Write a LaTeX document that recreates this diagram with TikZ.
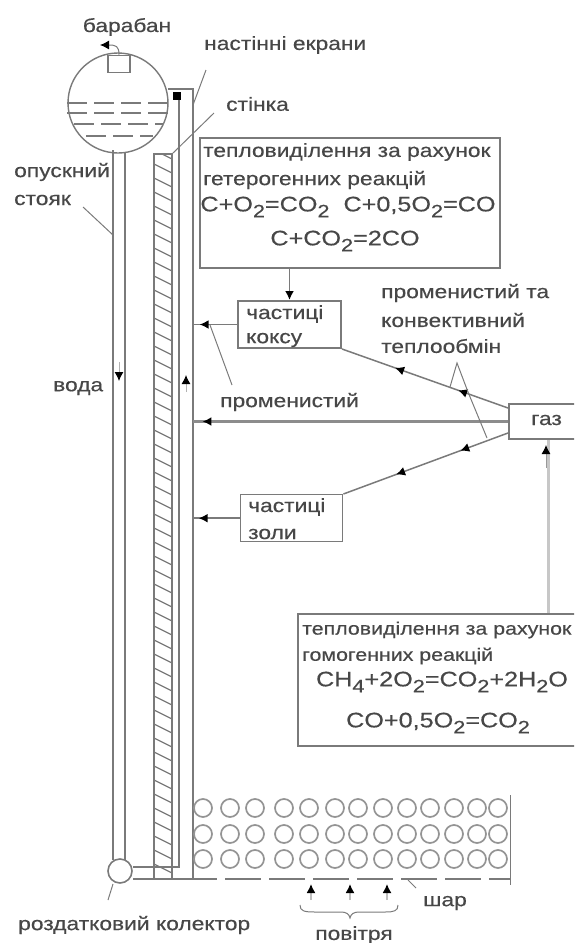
\documentclass[tikz,border=0pt]{standalone}
\usepackage{fontspec}
\setmainfont[FakeStretch=1.2,FakeBold=0.4]{Liberation Sans}
\usetikzlibrary{arrows.meta,decorations.markings}
\colorlet{ln}{black!52}
\colorlet{tx}{black!72}
\newcommand{\dn}[1]{\raisebox{-6pt}{\fontsize{18}{18}\selectfont #1}}
\newcommand{\fs}{\fontsize{19}{28}\selectfont}
\newcommand{\fn}{\fontsize{17.8}{28}\selectfont}
\newcommand{\fm}{\fontsize{21}{28}\selectfont}
\tikzset{
  tp/.tip={Latex[length=9pt,width=9pt,black]},
  lne/.style={draw=ln,line width=1.8pt},
  thin ln/.style={draw=ln,line width=1pt},
  lbl/.style={text=tx,inner sep=0pt,font=\fs,align=left,anchor=west},
  frm/.style={text=tx,inner sep=0pt,font=\fm,anchor=center},
  boxn/.style={draw=ln,line width=2pt,fill=white,inner sep=0pt,anchor=north west},
  tipat/.style={postaction={decorate},decoration={markings,mark=at position #1 with {\arrow{tp}}}},
  tiptwo/.style 2 args={postaction={decorate},decoration={markings,mark=at position #1 with {\arrow{tp}},mark=at position #2 with {\arrow{tp}}}},
  dashw/.style={draw=ln,line width=1.8pt,dash pattern=on 20pt off 7pt},
  ball/.style={circle,draw=black!42,line width=1.7pt,minimum size=18pt,inner sep=0pt},
}
\begin{document}
\begin{tikzpicture}[x=1pt,y=-1pt]
\useasboundingbox (0,0) rectangle (574,943);
\clip (0,0) rectangle (574,943);
% coordinates of the wall tube
\coordinate (wr) at (193,421);
% drum
\node[circle,draw=ln,line width=1.4pt,minimum size=100pt,inner sep=0pt] (drum) at (118,103) {};
\node[draw=ln,line width=1.6pt,minimum width=22pt,minimum height=17pt,inner sep=0pt] (sep) at (119,64) {};
\coordinate (steam) at (100,45);
\draw[thin ln,-tp] (sep.north) .. controls (119,46) and (116,45) .. (steam);
\draw[dashw] (67,103) -- (169,103);
\draw[dashw] (67,113) -- (169,113);
\draw[dashw] (74,124) -- (163,124);
\draw[dashw] (86,136) -- (153,136);
% downcomer
\node[circle,draw=ln,line width=1.6pt,minimum size=24pt,inner sep=0pt] (coll) at (120,871) {};
\draw[lne] (113,150) -- (113,860);
\draw[lne] (125,152) -- (125,860);
% wall hatch
\begin{scope}
\clip (154,155) rectangle (172,879);
\foreach \y in {150,164,...,880}{\draw[draw=ln,line width=1.2pt] (154,\y) -- (172,\y+9);}
\end{scope}
\draw[lne] (172,879) -- (172,154) -- (154,154) -- (154,879);
% screen tube
\draw[lne] (168,89) -- (193,89) -- (193,879);
\draw[lne] (179,97) -- (179,867) -- (133,867);
\fill[black] (173,92) rectangle (181,100);
\draw[lne] (133,879) -- (217,879);
\draw[lne,dash pattern=on 36pt off 8pt] (225,879) -- (510,879);
\draw[thin ln] (510,795) -- (510,885);
% balls
\foreach \x [count=\i] in {203,230,255,284,309,335,358,383,407,430,454,477,498}{
  \node[ball] (a\i) at (\x,808) {};
  \node[ball] (b\i) at (\x,834) {};
  \node[ball] (c\i) at (\x,859) {};
}
% water and tube flow arrows
\draw[draw=black!30,line width=1pt,-tp] (119,362) -- (119,381);
\draw[draw=black!30,line width=1pt,-tp] (186,392) -- (186,375);
% boxes
\node[boxn,minimum width=300pt,minimum height=130pt] (b1) at (198.5,136.5) {};
\node[boxn,minimum width=103pt,minimum height=47pt] (b2) at (237,300) {};
\node[boxn,line width=1.4pt,minimum width=102pt,minimum height=47pt] (b3) at (240,494) {};
\node[boxn,minimum width=100pt,minimum height=35pt] (gas) at (508,403) {};
\node[boxn,minimum width=300pt,minimum height=132pt] (b4) at (297,613) {};
% box texts
\node[lbl] (t1a) at (203,152) {тепловиділення за рахунок};
\node[lbl] (t1b) at (203,180) {гетерогенних реакцій};
\node[frm] (f1a) at (348,207) {C+O\dn{2}=CO\dn{2} \ C+0,5O\dn{2}=CO};
\node[frm] (f1b) at (345,241) {C+CO\dn{2}=2CO};
\node[lbl] (t2a) at (246,314) {частиці};
\node[lbl] (t2b) at (246,340) {коксу};
\node[lbl] (t3a) at (248,507) {частиці};
\node[lbl] (t3b) at (248,534) {золи};
\node[lbl] (tg) at (531,420) {газ};
\node[lbl,font=\fn] (t4a) at (302,630) {тепловиділення за рахунок};
\node[lbl,font=\fn] (t4b) at (302,656) {гомогенних реакцій};
\node[frm] (f4a) at (442,682) {CH\dn{4}+2O\dn{2}=CO\dn{2}+2H\dn{2}O};
\node[frm] (f4b) at (438,723) {CO+0,5O\dn{2}=CO\dn{2}};
% connectors
\draw[lne,-tp] (b1.south -| b2.north) -- (b2.north);
\draw[lne,tipat=0.85] (b2.west) -- (b2.west -| wr);
\draw[draw=black!45,line width=3pt,tipat=0.97] (gas.west) -- (gas.west -| wr);
\draw[lne,tipat=0.88] (b3.west) -- (b3.west -| wr);
\coordinate (gt) at (508,408); \coordinate (gb2) at (508,433);
\draw[draw=ln,line width=1.5pt,tiptwo={0.30}{0.68}] (gt) -- (b2.south east);
\draw[draw=ln,line width=1.5pt,tiptwo={0.29}{0.68}] (gb2) -- (b3.north east);
\draw[draw=black!22,line width=3pt] (b4.north -| 548,0) -- (548,440);
\draw[draw=black!40,line width=1pt,-tp] (546,468) -- (546,445);
% leaders
\draw[thin ln] (206,70) -- (193,105);
\draw[thin ln] (214,113) -- (172,154);
\draw[thin ln] (83,207) -- (113,235);
\draw[thin ln] (210,325) -- (232,385);
\draw[thin ln] (450,387) -- (457,363) -- (468,392) -- (487,438);
\draw[thin ln] (113,884) -- (108,900);
\draw[thin ln] (408,880) -- (416,888);
% air
\foreach \x in {311,350,387}{\draw[draw=black!25,line width=1.5pt,-tp] (\x,900) -- (\x,884);}
\draw[thin ln] (300,905) .. controls (300,911) and (304,912) .. (315,912) -- (340,912) .. controls (347,912) and (349,914) .. (350,918) .. controls (351,914) and (353,912) .. (360,912) -- (385,912) .. controls (394,912) and (398,911) .. (398,905);
% labels
\node[lbl,anchor=center] (baraban) at (127,27) {барабан};
\node[lbl] (nast) at (204,45) {настінні екрани};
\node[lbl] (stin) at (226,104) {стінка};
\node[lbl] (op1) at (14,172) {опускний};
\node[lbl] (op2) at (14,200) {стояк};
\node[lbl] (voda) at (53,388) {вода};
\node[lbl] (prom) at (220,402) {променистий};
\node[lbl] (pt1) at (381,293) {променистий та};
\node[lbl] (pt2) at (381,320) {конвективний};
\node[lbl] (pt3) at (381,346) {теплообмін};
\node[lbl] (rk) at (18,925) {роздатковий колектор};
\node[lbl,anchor=center] (pov) at (354,935) {повітря};
\node[lbl,anchor=center] (shar) at (445,903) {шар};
\end{tikzpicture}
\end{document}
